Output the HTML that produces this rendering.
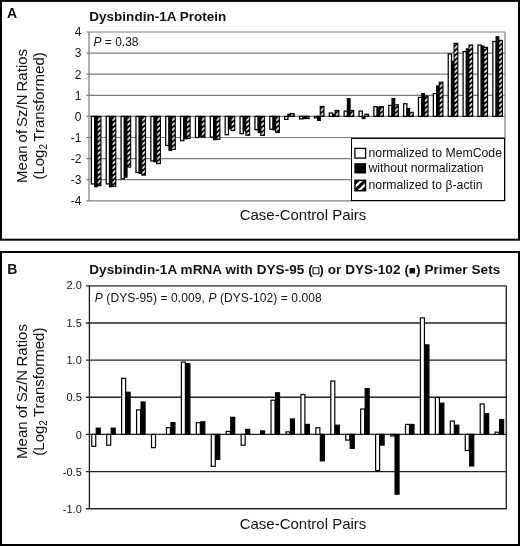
<!DOCTYPE html>
<html lang="en"><head><meta charset="utf-8"><title>Dysbindin-1A figure</title>
<style>html,body{margin:0;padding:0;background:#fff}svg{display:block;will-change:transform}text{font-family:"Liberation Sans", Arial, Helvetica, "DejaVu Sans", sans-serif;fill:#111}</style></head><body>
<svg width="520" height="546" viewBox="0 0 520 546">
<defs><pattern id="h" x="97.25" y="116.4" width="14.87" height="4.8" patternUnits="userSpaceOnUse"><path d="M0.2,4.5 L3.4,1.3" stroke="#fff" stroke-width="1.6" stroke-linecap="butt"/></pattern></defs>
<rect width="520" height="546" fill="#fff"/>
<rect x="1" y="0.9" width="518" height="238.8" fill="none" stroke="#000" stroke-width="2"/>
<rect x="1" y="252" width="518" height="293" fill="none" stroke="#000" stroke-width="2"/>
<g stroke="#7c7c7c" stroke-width="1.2" fill="none">
<path d="M86.4,200.8H505"/>
<path d="M86.4,179.7H505"/>
<path d="M86.4,158.6H505"/>
<path d="M86.4,137.5H505"/>
<path d="M86.4,116.4H505"/>
<path d="M86.4,95.3H505"/>
<path d="M86.4,74.2H505"/>
<path d="M86.4,53.1H505"/>
<path d="M86.4,32H505"/>
<path d="M89,32V201"/>
<path d="M505,32V201"/>
</g>
<g stroke="#000" stroke-width="1.25">
<rect x="91.35" y="116.4" width="3.3" height="67.52" fill="#fff"/>
<rect x="94.65" y="116.4" width="2.6" height="70.26" fill="#000"/>
<rect x="97.25" y="116.4" width="3.6" height="69.21" fill="#000"/>
<rect x="97.6" y="117" width="2.9" height="68.01" fill="url(#h)" stroke="none"/>
<rect x="106.22" y="116.4" width="3.3" height="67.52" fill="#fff"/>
<rect x="109.52" y="116.4" width="2.6" height="70.26" fill="#000"/>
<rect x="112.12" y="116.4" width="3.6" height="69.84" fill="#000"/>
<rect x="112.47" y="117" width="2.9" height="68.64" fill="url(#h)" stroke="none"/>
<rect x="121.09" y="116.4" width="3.3" height="62.46" fill="#fff"/>
<rect x="124.39" y="116.4" width="2.6" height="60.77" fill="#000"/>
<rect x="126.99" y="116.4" width="3.6" height="50.64" fill="#000"/>
<rect x="127.34" y="117" width="2.9" height="49.44" fill="url(#h)" stroke="none"/>
<rect x="135.96" y="116.4" width="3.3" height="56.13" fill="#fff"/>
<rect x="139.26" y="116.4" width="2.6" height="56.97" fill="#000"/>
<rect x="141.86" y="116.4" width="3.6" height="58.66" fill="#000"/>
<rect x="142.21" y="117" width="2.9" height="57.46" fill="url(#h)" stroke="none"/>
<rect x="150.83" y="116.4" width="3.3" height="44.52" fill="#fff"/>
<rect x="154.13" y="116.4" width="2.6" height="45.37" fill="#000"/>
<rect x="156.73" y="116.4" width="3.6" height="47.26" fill="#000"/>
<rect x="157.08" y="117" width="2.9" height="46.06" fill="url(#h)" stroke="none"/>
<rect x="165.7" y="116.4" width="3.3" height="29.12" fill="#fff"/>
<rect x="169" y="116.4" width="2.6" height="33.76" fill="#000"/>
<rect x="171.6" y="116.4" width="3.6" height="33.13" fill="#000"/>
<rect x="171.95" y="117" width="2.9" height="31.93" fill="url(#h)" stroke="none"/>
<rect x="180.57" y="116.4" width="3.3" height="24.27" fill="#fff"/>
<rect x="183.87" y="116.4" width="2.6" height="22.37" fill="#000"/>
<rect x="186.47" y="116.4" width="3.6" height="21.94" fill="#000"/>
<rect x="186.82" y="117" width="2.9" height="20.74" fill="url(#h)" stroke="none"/>
<rect x="195.44" y="116.4" width="3.3" height="21.1" fill="#fff"/>
<rect x="198.74" y="116.4" width="2.6" height="20.26" fill="#000"/>
<rect x="201.34" y="116.4" width="3.6" height="20.68" fill="#000"/>
<rect x="201.69" y="117" width="2.9" height="19.48" fill="url(#h)" stroke="none"/>
<rect x="210.31" y="116.4" width="3.3" height="20.68" fill="#fff"/>
<rect x="213.61" y="116.4" width="2.6" height="23.21" fill="#000"/>
<rect x="216.21" y="116.4" width="3.6" height="22.79" fill="#000"/>
<rect x="216.56" y="117" width="2.9" height="21.59" fill="url(#h)" stroke="none"/>
<rect x="225.18" y="116.4" width="3.3" height="18.36" fill="#fff"/>
<rect x="228.48" y="116.4" width="2.6" height="12.24" fill="#000"/>
<rect x="231.08" y="116.4" width="3.6" height="14.14" fill="#000"/>
<rect x="231.43" y="117" width="2.9" height="12.94" fill="url(#h)" stroke="none"/>
<rect x="240.05" y="116.4" width="3.3" height="17.3" fill="#fff"/>
<rect x="243.35" y="116.4" width="2.6" height="14.14" fill="#000"/>
<rect x="245.95" y="116.4" width="3.6" height="18.78" fill="#000"/>
<rect x="246.3" y="117" width="2.9" height="17.58" fill="url(#h)" stroke="none"/>
<rect x="254.92" y="116.4" width="3.3" height="13.29" fill="#fff"/>
<rect x="258.22" y="116.4" width="2.6" height="16.04" fill="#000"/>
<rect x="260.82" y="116.4" width="3.6" height="18.99" fill="#000"/>
<rect x="261.17" y="117" width="2.9" height="17.79" fill="url(#h)" stroke="none"/>
<rect x="269.79" y="116.4" width="3.3" height="12.87" fill="#fff"/>
<rect x="273.09" y="116.4" width="2.6" height="13.5" fill="#000"/>
<rect x="275.69" y="116.4" width="3.6" height="16.04" fill="#000"/>
<rect x="276.04" y="117" width="2.9" height="14.84" fill="url(#h)" stroke="none"/>
<rect x="284.66" y="116.4" width="3.3" height="2.95" fill="#fff"/>
<rect x="287.96" y="114.29" width="2.6" height="2.11" fill="#000"/>
<rect x="290.56" y="113.66" width="3.6" height="2.74" fill="#000"/>
<rect x="290.91" y="114.26" width="2.9" height="1.54" fill="url(#h)" stroke="none"/>
<rect x="299.53" y="116.4" width="3.3" height="2.53" fill="#fff"/>
<rect x="302.83" y="116.4" width="2.6" height="2.11" fill="#000"/>
<rect x="305.43" y="116.4" width="3.6" height="2.11" fill="#000"/>
<rect x="305.78" y="117" width="2.9" height="0.91" fill="url(#h)" stroke="none"/>
<rect x="314.4" y="116.4" width="3.3" height="1.48" fill="#fff"/>
<rect x="317.7" y="116.4" width="2.6" height="4.01" fill="#000"/>
<rect x="320.3" y="106.48" width="3.6" height="9.92" fill="#000"/>
<rect x="320.65" y="107.08" width="2.9" height="8.72" fill="url(#h)" stroke="none"/>
<rect x="329.27" y="113.02" width="3.3" height="3.38" fill="#fff"/>
<rect x="332.57" y="114.29" width="2.6" height="2.11" fill="#000"/>
<rect x="335.17" y="110.49" width="3.6" height="5.91" fill="#000"/>
<rect x="335.52" y="111.09" width="2.9" height="4.71" fill="url(#h)" stroke="none"/>
<rect x="344.14" y="111.12" width="3.3" height="5.28" fill="#fff"/>
<rect x="347.44" y="98.68" width="2.6" height="17.72" fill="#000"/>
<rect x="350.04" y="110.49" width="3.6" height="5.91" fill="#000"/>
<rect x="350.39" y="111.09" width="2.9" height="4.71" fill="url(#h)" stroke="none"/>
<rect x="359.01" y="111.12" width="3.3" height="5.28" fill="#fff"/>
<rect x="362.31" y="116.4" width="2.6" height="2.11" fill="#000"/>
<rect x="364.91" y="114.29" width="3.6" height="2.11" fill="#000"/>
<rect x="365.26" y="114.89" width="2.9" height="0.91" fill="url(#h)" stroke="none"/>
<rect x="373.88" y="106.69" width="3.3" height="9.71" fill="#fff"/>
<rect x="377.18" y="107.33" width="2.6" height="9.07" fill="#000"/>
<rect x="379.78" y="106.69" width="3.6" height="9.71" fill="#000"/>
<rect x="380.13" y="107.29" width="2.9" height="8.51" fill="url(#h)" stroke="none"/>
<rect x="388.75" y="105.43" width="3.3" height="10.97" fill="#fff"/>
<rect x="392.05" y="98.68" width="2.6" height="17.72" fill="#000"/>
<rect x="394.65" y="104.8" width="3.6" height="11.61" fill="#000"/>
<rect x="395" y="105.39" width="2.9" height="10.41" fill="url(#h)" stroke="none"/>
<rect x="403.62" y="103.74" width="3.3" height="12.66" fill="#fff"/>
<rect x="406.92" y="108.59" width="2.6" height="7.81" fill="#000"/>
<rect x="409.52" y="112.39" width="3.6" height="4.01" fill="#000"/>
<rect x="409.87" y="112.99" width="2.9" height="2.81" fill="url(#h)" stroke="none"/>
<rect x="418.49" y="97.41" width="3.3" height="18.99" fill="#fff"/>
<rect x="421.79" y="93.61" width="2.6" height="22.79" fill="#000"/>
<rect x="424.39" y="96.14" width="3.6" height="20.26" fill="#000"/>
<rect x="424.74" y="96.74" width="2.9" height="19.06" fill="url(#h)" stroke="none"/>
<rect x="433.36" y="93.61" width="3.3" height="22.79" fill="#fff"/>
<rect x="436.66" y="86.02" width="2.6" height="30.38" fill="#000"/>
<rect x="439.26" y="82.22" width="3.6" height="34.18" fill="#000"/>
<rect x="439.61" y="82.82" width="2.9" height="32.98" fill="url(#h)" stroke="none"/>
<rect x="448.23" y="53.94" width="3.3" height="62.46" fill="#fff"/>
<rect x="451.53" y="61.54" width="2.6" height="54.86" fill="#000"/>
<rect x="454.13" y="43.39" width="3.6" height="73.01" fill="#000"/>
<rect x="454.48" y="43.99" width="2.9" height="71.81" fill="url(#h)" stroke="none"/>
<rect x="463.1" y="51.62" width="3.3" height="64.78" fill="#fff"/>
<rect x="466.4" y="48.88" width="2.6" height="67.52" fill="#000"/>
<rect x="469" y="45.08" width="3.6" height="71.32" fill="#000"/>
<rect x="469.35" y="45.68" width="2.9" height="70.12" fill="url(#h)" stroke="none"/>
<rect x="477.97" y="45.08" width="3.3" height="71.32" fill="#fff"/>
<rect x="481.27" y="46.14" width="2.6" height="70.26" fill="#000"/>
<rect x="483.87" y="47.4" width="3.6" height="69" fill="#000"/>
<rect x="484.22" y="48" width="2.9" height="67.8" fill="url(#h)" stroke="none"/>
<rect x="492.84" y="41.5" width="3.3" height="74.91" fill="#fff"/>
<rect x="496.14" y="36.85" width="2.6" height="79.55" fill="#000"/>
<rect x="498.74" y="40.44" width="3.6" height="75.96" fill="#000"/>
<rect x="499.09" y="41.04" width="2.9" height="74.76" fill="url(#h)" stroke="none"/>
</g>
<text x="81.5" y="205.1" font-size="12" text-anchor="end">-4</text>
<text x="81.5" y="184" font-size="12" text-anchor="end">-3</text>
<text x="81.5" y="162.9" font-size="12" text-anchor="end">-2</text>
<text x="81.5" y="141.8" font-size="12" text-anchor="end">-1</text>
<text x="81.5" y="120.7" font-size="12" text-anchor="end">0</text>
<text x="81.5" y="99.6" font-size="12" text-anchor="end">1</text>
<text x="81.5" y="78.5" font-size="12" text-anchor="end">2</text>
<text x="81.5" y="57.4" font-size="12" text-anchor="end">3</text>
<text x="81.5" y="36.3" font-size="12" text-anchor="end">4</text>
<text x="7" y="17.5" font-size="14" font-weight="bold">A</text>
<text x="89.3" y="20.5" font-size="13.5" font-weight="bold" textLength="137">Dysbindin-1A Protein</text>
<text x="93.5" y="46" font-size="12"><tspan font-style="italic">P</tspan> = 0.38</text>
<text transform="translate(26.7,182.9) rotate(-90)" font-size="15" word-spacing="-1.2">Mean of Sz/N Ratios</text>
<text transform="translate(43.8,179.6) rotate(-90)" font-size="15" word-spacing="-1.6">(Log<tspan font-size="10" dy="3">2</tspan><tspan dy="-3"> Transformed)</tspan></text>
<text x="303" y="220.3" font-size="15" text-anchor="middle">Case-Control Pairs</text>
<rect x="351.5" y="138.5" width="153" height="62" fill="#fff" stroke="#000" stroke-width="1"/>
<rect x="354.9" y="148.4" width="10.7" height="9.7" fill="#fff" stroke="#000" stroke-width="1.3"/>
<rect x="354.9" y="163.7" width="10.7" height="9.3" fill="#000" stroke="#000" stroke-width="1"/>
<rect x="354.9" y="180.2" width="10.7" height="10.6" fill="#000" stroke="#000" stroke-width="1.3"/>
<clipPath id="lc"><rect x="355.7" y="181" width="9.1" height="9"/></clipPath>
<path clip-path="url(#lc)" d="M354.4,187.5L362.3,179.7M358.2,191.3L366.1,183.5" stroke="#fff" stroke-width="2.3" fill="none"/>
<text x="368.5" y="157" font-size="12.25">normalized to MemCode</text>
<text x="368.5" y="172" font-size="12.25">without normalization</text>
<text x="368.5" y="189" font-size="12.25">normalized to β-actin</text>
<g stroke="#222" stroke-width="1.35" fill="none">
<path d="M85.9,285.8H506.3"/>
<path d="M85.9,322.95H506.3"/>
<path d="M85.9,360.1H506.3"/>
<path d="M85.9,397.25H506.3"/>
<path d="M85.9,434.4H506.3"/>
<path d="M85.9,471.55H506.3"/>
<path d="M85.9,508.7H506.3"/>
<path d="M89.4,285.9V509"/>
<path d="M506.3,285.9V509"/>
</g>
<g>
<rect x="91.75" y="434.4" width="4" height="11.89" fill="#fff" stroke="#000" stroke-width="1.2"/>
<rect x="96.25" y="428.16" width="4" height="6.24" fill="#000" stroke="#000" stroke-width="1.2"/>
<rect x="106.69" y="434.4" width="4" height="10.77" fill="#fff" stroke="#000" stroke-width="1.2"/>
<rect x="111.19" y="428.16" width="4" height="6.24" fill="#000" stroke="#000" stroke-width="1.2"/>
<rect x="121.63" y="378.3" width="4" height="56.1" fill="#fff" stroke="#000" stroke-width="1.2"/>
<rect x="126.13" y="392.27" width="4" height="42.13" fill="#000" stroke="#000" stroke-width="1.2"/>
<rect x="136.57" y="409.88" width="4" height="24.52" fill="#fff" stroke="#000" stroke-width="1.2"/>
<rect x="141.07" y="402.01" width="4" height="32.39" fill="#000" stroke="#000" stroke-width="1.2"/>
<rect x="151.51" y="434.4" width="4" height="13.23" fill="#fff" stroke="#000" stroke-width="1.2"/>
<rect x="166.45" y="427.71" width="4" height="6.69" fill="#fff" stroke="#000" stroke-width="1.2"/>
<rect x="170.95" y="422.66" width="4" height="11.74" fill="#000" stroke="#000" stroke-width="1.2"/>
<rect x="181.39" y="362.11" width="4" height="72.29" fill="#fff" stroke="#000" stroke-width="1.2"/>
<rect x="185.89" y="363.59" width="4" height="70.81" fill="#000" stroke="#000" stroke-width="1.2"/>
<rect x="196.33" y="422.66" width="4" height="11.74" fill="#fff" stroke="#000" stroke-width="1.2"/>
<rect x="200.83" y="421.77" width="4" height="12.63" fill="#000" stroke="#000" stroke-width="1.2"/>
<rect x="211.27" y="434.4" width="4" height="31.95" fill="#fff" stroke="#000" stroke-width="1.2"/>
<rect x="215.77" y="434.4" width="4" height="24.96" fill="#000" stroke="#000" stroke-width="1.2"/>
<rect x="226.21" y="431.43" width="4" height="2.97" fill="#fff" stroke="#000" stroke-width="1.2"/>
<rect x="230.71" y="417.31" width="4" height="17.09" fill="#000" stroke="#000" stroke-width="1.2"/>
<rect x="241.15" y="434.4" width="4" height="10.77" fill="#fff" stroke="#000" stroke-width="1.2"/>
<rect x="245.65" y="429.42" width="4" height="4.98" fill="#000" stroke="#000" stroke-width="1.2"/>
<rect x="260.59" y="430.91" width="4" height="3.49" fill="#000" stroke="#000" stroke-width="1.2"/>
<rect x="271.03" y="400.22" width="4" height="34.18" fill="#fff" stroke="#000" stroke-width="1.2"/>
<rect x="275.53" y="392.79" width="4" height="41.61" fill="#000" stroke="#000" stroke-width="1.2"/>
<rect x="285.97" y="431.87" width="4" height="2.53" fill="#fff" stroke="#000" stroke-width="1.2"/>
<rect x="290.47" y="418.95" width="4" height="15.45" fill="#000" stroke="#000" stroke-width="1.2"/>
<rect x="300.91" y="394.5" width="4" height="39.9" fill="#fff" stroke="#000" stroke-width="1.2"/>
<rect x="305.41" y="424.44" width="4" height="9.96" fill="#000" stroke="#000" stroke-width="1.2"/>
<rect x="315.85" y="427.71" width="4" height="6.69" fill="#fff" stroke="#000" stroke-width="1.2"/>
<rect x="320.35" y="434.4" width="4" height="26.45" fill="#000" stroke="#000" stroke-width="1.2"/>
<rect x="330.79" y="381.05" width="4" height="53.35" fill="#fff" stroke="#000" stroke-width="1.2"/>
<rect x="335.29" y="425.19" width="4" height="9.21" fill="#000" stroke="#000" stroke-width="1.2"/>
<rect x="345.73" y="434.4" width="4" height="5.72" fill="#fff" stroke="#000" stroke-width="1.2"/>
<rect x="350.23" y="434.4" width="4" height="13.97" fill="#000" stroke="#000" stroke-width="1.2"/>
<rect x="360.67" y="408.99" width="4" height="25.41" fill="#fff" stroke="#000" stroke-width="1.2"/>
<rect x="365.17" y="388.56" width="4" height="45.84" fill="#000" stroke="#000" stroke-width="1.2"/>
<rect x="375.61" y="434.4" width="4" height="36.18" fill="#fff" stroke="#000" stroke-width="1.2"/>
<rect x="380.11" y="434.4" width="4" height="10.7" fill="#000" stroke="#000" stroke-width="1.2"/>
<rect x="390.55" y="434.4" width="4" height="1.49" fill="#fff" stroke="#000" stroke-width="1.2"/>
<rect x="395.05" y="434.4" width="4" height="59.81" fill="#000" stroke="#000" stroke-width="1.2"/>
<rect x="405.49" y="424.44" width="4" height="9.96" fill="#fff" stroke="#000" stroke-width="1.2"/>
<rect x="409.99" y="424.44" width="4" height="9.96" fill="#000" stroke="#000" stroke-width="1.2"/>
<rect x="420.43" y="317.9" width="4" height="116.5" fill="#fff" stroke="#000" stroke-width="1.2"/>
<rect x="424.93" y="344.87" width="4" height="89.53" fill="#000" stroke="#000" stroke-width="1.2"/>
<rect x="435.37" y="397.47" width="4" height="36.93" fill="#fff" stroke="#000" stroke-width="1.2"/>
<rect x="439.87" y="403.19" width="4" height="31.21" fill="#000" stroke="#000" stroke-width="1.2"/>
<rect x="450.31" y="421.03" width="4" height="13.37" fill="#fff" stroke="#000" stroke-width="1.2"/>
<rect x="454.81" y="425.19" width="4" height="9.21" fill="#000" stroke="#000" stroke-width="1.2"/>
<rect x="465.25" y="434.4" width="4" height="16.12" fill="#fff" stroke="#000" stroke-width="1.2"/>
<rect x="469.75" y="434.4" width="4" height="31.58" fill="#000" stroke="#000" stroke-width="1.2"/>
<rect x="480.19" y="403.94" width="4" height="30.46" fill="#fff" stroke="#000" stroke-width="1.2"/>
<rect x="484.69" y="413.6" width="4" height="20.8" fill="#000" stroke="#000" stroke-width="1.2"/>
<rect x="495.13" y="432.17" width="4" height="2.23" fill="#fff" stroke="#000" stroke-width="1.2"/>
<rect x="499.63" y="419.54" width="4" height="14.86" fill="#000" stroke="#000" stroke-width="1.2"/>
</g>
<text x="81.8" y="288.55" font-size="11" text-anchor="end">2.0</text>
<text x="81.8" y="327" font-size="11" text-anchor="end">1.5</text>
<text x="81.8" y="364.15" font-size="11" text-anchor="end">1.0</text>
<text x="81.8" y="401.3" font-size="11" text-anchor="end">0.5</text>
<text x="81.8" y="439.25" font-size="11" text-anchor="end">0</text>
<text x="81.8" y="475.6" font-size="11" text-anchor="end">-0.5</text>
<text x="81.8" y="512.75" font-size="11" text-anchor="end">-1.0</text>
<text x="7.2" y="273.9" font-size="14" font-weight="bold">B</text>
<text x="89.3" y="274" font-size="13.5" font-weight="bold" textLength="411">Dysbindin-1A mRNA with DYS-95 (<tspan font-size="10.5" dy="-0.3" stroke="#111" stroke-width="0.45">□</tspan><tspan dy="0.3">) or DYS-102 (</tspan><tspan font-size="11.5" dy="-0.3">■</tspan><tspan dy="0.3">) Primer Sets</tspan></text>
<text x="94.8" y="301.5" font-size="12" textLength="227"><tspan font-style="italic">P</tspan> (DYS-95) = 0.009, <tspan font-style="italic">P</tspan> (DYS-102) = 0.008</text>
<text transform="translate(26.7,458.9) rotate(-90)" font-size="15" word-spacing="-0.9">Mean of Sz/N Ratios</text>
<text transform="translate(43.8,455.7) rotate(-90)" font-size="15" word-spacing="-0.8">(Log<tspan font-size="10" dy="3">2</tspan><tspan dy="-3"> Transformed)</tspan></text>
<text x="303" y="528.6" font-size="15" text-anchor="middle">Case-Control Pairs</text>
</svg></body></html>
